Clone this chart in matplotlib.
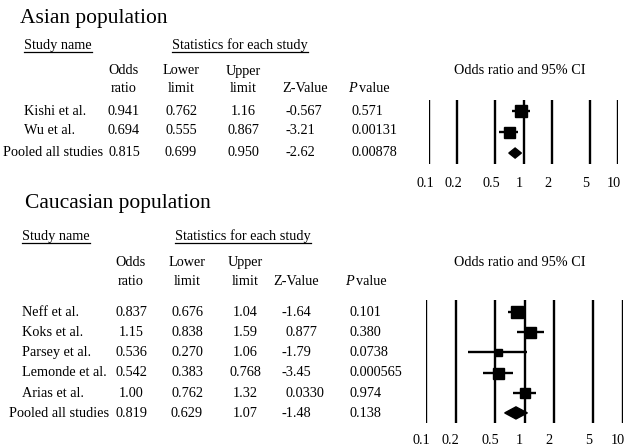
import numpy as np
import matplotlib
matplotlib.use('Agg')
import matplotlib.pyplot as plt
from matplotlib.lines import Line2D
from matplotlib.patches import Polygon
from matplotlib.ticker import NullLocator
from matplotlib.transforms import ScaledTranslation

plt.rcParams['font.family'] = ['Liberation Serif', 'DejaVu Serif']

# --- data ---
asian_names = ['Kishi et al.', 'Wu et al.', 'Pooled all studies']
asian_or = [0.941, 0.694, 0.815]
asian_lo = [0.762, 0.555, 0.699]
asian_hi = [1.16, 0.867, 0.950]
asian_z = [-0.567, -3.21, -2.62]
asian_p = [0.571, 0.00131, 0.00878]
asian_w = [12, 11]          # relative box sizes (study weights)

cauc_names = ['Neff et al.', 'Koks et al.', 'Parsey et al.', 'Lemonde et al.',
              'Arias et al.', 'Pooled all studies']
cauc_or = [0.837, 1.15, 0.536, 0.542, 1.00, 0.819]
cauc_lo = [0.676, 0.838, 0.270, 0.383, 0.762, 0.629]
cauc_hi = [1.04, 1.59, 1.06, 0.768, 1.32, 1.07]
cauc_z = [-1.64, 0.877, -1.79, -3.45, 0.0330, -1.48]
cauc_p = [0.101, 0.380, 0.0738, 0.000565, 0.974, 0.138]
cauc_w = [12, 11, 7, 11, 10]

ticks = [0.1, 0.2, 0.5, 1, 2, 5, 10]
tick_labels = ['0.1', '0.2', '0.5', '1', '2', '5', '10']

W, H = 627, 448
FS = 10.3
fig = plt.figure(figsize=(W / 100, H / 100), dpi=100)


def T(x, y, s, **kw):
    kw.setdefault('fontsize', FS)
    kw.setdefault('va', 'center')
    return fig.text(x / W, 1 - y / H, s, **kw)


def fmt(v):
    return '{:#.3g}'.format(v)


def underline(t, y):
    fig.canvas.draw()
    bb = t.get_window_extent()
    yy = 1 - y / H
    fig.add_artist(Line2D([bb.x0 / W, bb.x1 / W], [yy, yy], color='black',
                          lw=0.9, transform=fig.transFigure))


def table(head, rows, names, ors, los, his, zs, ps, cols, name_x, pooled_x):
    c_or, c_lo, c_hi, c_z, c_zh, c_p, c_ci, c_st = cols
    y0, h1, h2 = head
    t1 = T(name_x, y0, 'Study name')
    t2 = T(c_st, y0, 'Statistics for each study')
    underline(t1, y0 + 7)
    underline(t2, y0 + 7)
    T(c_or, h1, 'Odds', ha='center')
    T(c_or, h2, 'ratio', ha='center')
    T(c_lo, h1, 'Lower', ha='center')
    T(c_lo, h2, 'limit', ha='center')
    T(c_hi, h1, 'Upper', ha='center')
    T(c_hi, h2, 'limit', ha='center')
    T(c_zh, h2, 'Z-Value')
    T(c_p - 4, h2, 'P', style='italic')
    T(c_p + 7, h2, 'value')
    T(c_ci, h1, 'Odds ratio and 95% CI', ha='center')
    for i, nm in enumerate(names):
        y = rows[i]
        x = pooled_x if nm.startswith('Pooled') else name_x
        T(x, y, nm)
        T(c_or, y, fmt(ors[i]), ha='center')
        T(c_lo, y, fmt(los[i]), ha='center')
        T(c_hi, y, fmt(his[i]), ha='center')
        zx = c_z if zs[i] < 0 else c_z + 4
        T(zx, y, fmt(zs[i]))
        T(c_p, y, fmt(ps[i]))


def forest(box, ylim, ors, los, his, weights, dh, lab_y, shift):
    l, r, t, b = box
    ax = fig.add_axes([l / W, 1 - b / H, (r - l) / W, (b - t) / H])
    ax.set_xscale('log')
    ax.set_xlim(0.1, 10)
    ax.set_ylim(*ylim)
    for s in ax.spines.values():
        s.set_visible(False)
    for tk in ticks:
        ax.axvline(tk, color='black', lw=1.7)
    n = len(ors) - 1
    for i in range(n):
        ax.plot([los[i], his[i]], [i, i], color='black', lw=1.7,
                solid_capstyle='butt')
        ax.plot(ors[i], i, marker='s', color='black',
                markersize=weights[i] * 0.72, linestyle='none')
    diam = Polygon([[los[n], n], [ors[n], n - dh], [his[n], n], [ors[n], n + dh]],
                   closed=True, color='black')
    ax.add_patch(diam)
    ax.set_xticks([])
    ax.xaxis.set_minor_locator(NullLocator())
    ax.set_yticks([])
    off = ScaledTranslation(shift / 100, 0, fig.dpi_scale_trans)
    for tk, lab in zip(ticks, tick_labels):
        ax.text(tk, 1 - (lab_y - t) / (b - t), lab, fontsize=FS,
                ha='center', va='center',
                transform=ax.get_xaxis_transform() + off)
    return ax


# Asian population
T(20, 18, 'Asian population', fontsize=15.5)
table((45, 71, 88), [111, 131, 152], asian_names, asian_or, asian_lo,
      asian_hi, asian_z, asian_p, (124, 181, 243, 285, 282, 352, 520, 172),
      24, 3)
forest((429, 618, 100, 164), (2.52, -0.52), asian_or, asian_lo, asian_hi,
       asian_w, 0.24, 183, -4)

# Caucasian population
T(25, 203, 'Caucasian population', fontsize=15.5)
table((236, 262, 281), [312, 332, 352, 372, 393, 413], cauc_names, cauc_or,
      cauc_lo, cauc_hi, cauc_z, cauc_p,
      (131, 187, 245, 281, 273, 349, 520, 175), 22, 9)
forest((426, 623, 300, 423), (5.5, -0.6), cauc_or, cauc_lo, cauc_hi,
       cauc_w, 0.3, 440, -5)

fig.savefig('out.png', dpi=100)
